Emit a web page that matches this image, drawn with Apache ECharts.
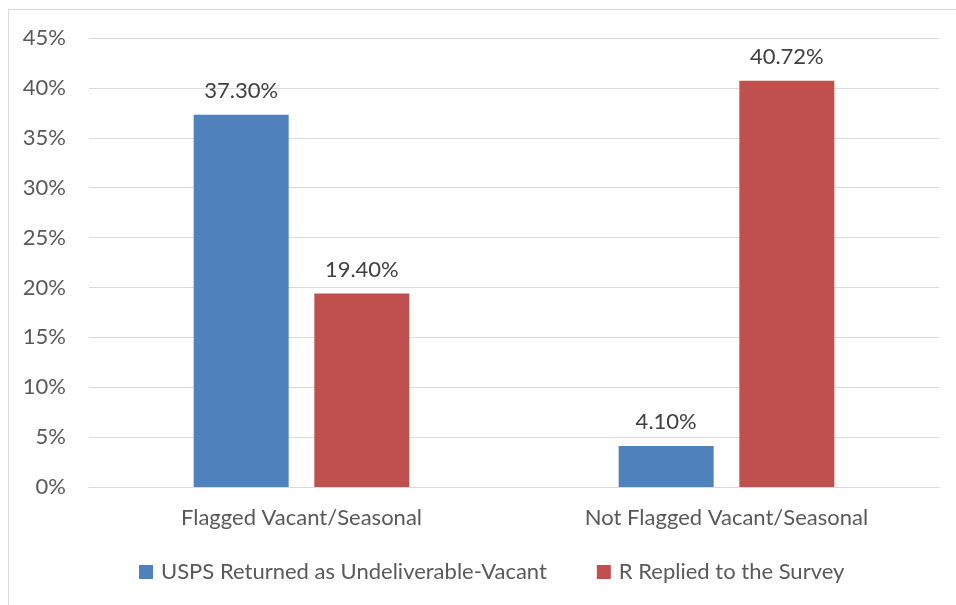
<!DOCTYPE html>
<html>
<head>
<meta charset="utf-8">
<script src="https://cdn.jsdelivr.net/npm/echarts@6/dist/echarts.min.js"></script>
<style>
  html, body { margin: 0; padding: 0; background: #ffffff; }
  #frame { position: absolute; left: 8px; top: 9px; width: 960px; height: 610px; border: 1px solid #d9d9d9; box-sizing: border-box; }
  #chart { position: absolute; left: 0; top: 0; width: 956px; height: 605px; }
</style>
</head>
<body>
<div id="frame"></div>
<div id="chart"></div>
<script>
// Categories and series values (percent)
const categories = ['Flagged Vacant/Seasonal', 'Not Flagged Vacant/Seasonal'];
const seriesNames = ['USPS Returned as Undeliverable-Vacant', 'R Replied to the Survey'];
const uspsValues = [37.30, 4.10];
const repliedValues = [19.40, 40.72];
const yTicks = [0, 5, 10, 15, 20, 25, 30, 35, 40, 45];

const FONT = 'Lato';
const FS = 22;
const textColor = '#595959';

const chart = echarts.init(document.getElementById('chart'), null, { renderer: 'canvas' });

const labelCfg = {
  show: true,
  position: 'top',
  distance: 13,
  color: '#404040',
  fontFamily: FONT,
  fontSize: FS,
  formatter: p => p.value.toFixed(2) + '%'
};

chart.setOption({
  backgroundColor: 'transparent',
  animation: false,
  grid: { left: 89, right: 17, top: 38, bottom: 118, containLabel: false },
  xAxis: {
    type: 'category',
    data: categories,
    axisLine: { show: true, lineStyle: { color: '#d9d9d9', width: 1 } },
    axisTick: { show: false },
    axisLabel: { color: textColor, fontFamily: FONT, fontSize: FS, margin: 20 }
  },
  yAxis: {
    type: 'value',
    min: yTicks[0],
    max: yTicks[yTicks.length - 1],
    interval: 5,
    axisLine: { show: false },
    axisTick: { show: false },
    splitLine: { lineStyle: { color: '#d9d9d9', width: 1 } },
    axisLabel: { color: textColor, fontFamily: FONT, fontSize: FS, margin: 23, formatter: v => v + '%' }
  },
  legend: {
    bottom: 17,
    left: 134,
    itemWidth: 14,
    itemHeight: 14,
    itemGap: 50,
    icon: 'rect',
    textStyle: { color: textColor, fontFamily: FONT, fontSize: FS, padding: [0, 0, 0, 3] },
    data: seriesNames
  },
  series: [
    {
      name: seriesNames[0],
      type: 'bar',
      data: uspsValues,
      barWidth: 95,
      barGap: '27%',
      itemStyle: { color: '#4f81bd' },
      label: labelCfg
    },
    {
      name: seriesNames[1],
      type: 'bar',
      data: repliedValues,
      barWidth: 95,
      barGap: '27%',
      itemStyle: { color: '#c0504d' },
      label: labelCfg
    }
  ]
});
</script>
</body>
</html>
